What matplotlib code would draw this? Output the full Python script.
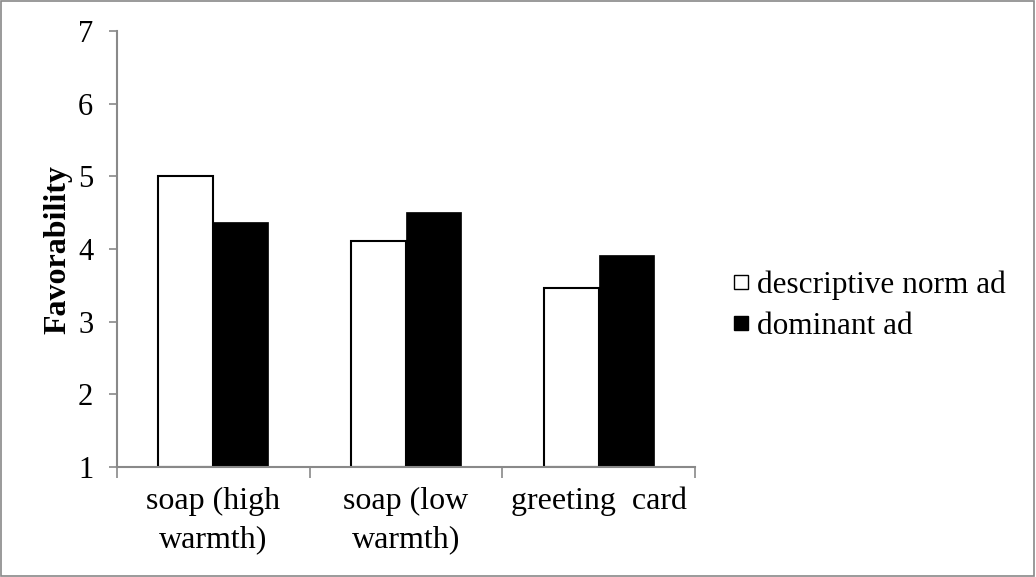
import matplotlib
matplotlib.use("Agg")
import matplotlib.pyplot as plt
from matplotlib.patches import Rectangle
from matplotlib.lines import Line2D
import numpy as np

categories = ["soap (high\nwarmth)", "soap (low\nwarmth)", "greeting  card"]
descriptive = [5.00, 4.11, 3.47]
dominant = [4.37, 4.51, 3.92]
series_names = ["descriptive norm ad", "dominant ad"]
yticks = [1, 2, 3, 4, 5, 6, 7]

plt.rcParams['font.family'] = ['Liberation Serif', 'DejaVu Serif']
axis_gray = '#898989'

fig = plt.figure(figsize=(10.36, 5.77), dpi=100)
ax = fig.add_axes([0.1129, 0.1906, 0.5579, 0.7557])

x = np.arange(len(categories))
w = 0.285
base = yticks[0]
ax.bar(x - w / 2, np.array(descriptive) - base, w, bottom=base, color='white',
       edgecolor='black', linewidth=1.5, zorder=2)
ax.bar(x + w / 2, np.array(dominant) - base, w, bottom=base, color='black',
       edgecolor='black', linewidth=0.5, zorder=2)

ax.set_xlim(-0.5, len(categories) - 0.5)
ax.set_ylim(1, 7)
ax.set_yticks(yticks)
ax.set_xticks(x)
ax.set_xticklabels(categories, fontsize=23, linespacing=1.45)
ax.set_xticks(np.arange(-0.5, len(categories)), minor=True)
ax.tick_params(axis='x', which='major', length=0, pad=14)
ax.tick_params(axis='x', which='minor', length=8, color=axis_gray, width=1.2, direction='out')
ax.tick_params(axis='y', length=6, color=axis_gray, width=1.2, labelsize=22, pad=11)

for s in ['top', 'right']:
    ax.spines[s].set_visible(False)
for s in ['left', 'bottom']:
    ax.spines[s].set_color(axis_gray)
    ax.spines[s].set_linewidth(1.5)
    ax.spines[s].set_zorder(3)

ax.set_ylabel("Favorability", fontsize=23, fontweight='bold', labelpad=4)

handles = [
    Line2D([], [], linestyle='none', marker='s', markersize=10.5,
           markerfacecolor='white', markeredgecolor='black', markeredgewidth=1.0),
    Line2D([], [], linestyle='none', marker='s', markersize=10.5,
           markerfacecolor='black', markeredgecolor='black', markeredgewidth=1.0),
]
ax.legend(handles, series_names, loc='center left', bbox_to_anchor=(1.04, 0.37),
          frameon=False, fontsize=22.5, handlelength=0.45, handletextpad=0.3,
          labelspacing=0.4, borderpad=0)

# outer chart border
fig.add_artist(Rectangle((0.001, 0.002), 0.997, 0.996, transform=fig.transFigure,
                         fill=False, edgecolor=axis_gray, linewidth=1.2))

fig.savefig("out.png", dpi=100)
